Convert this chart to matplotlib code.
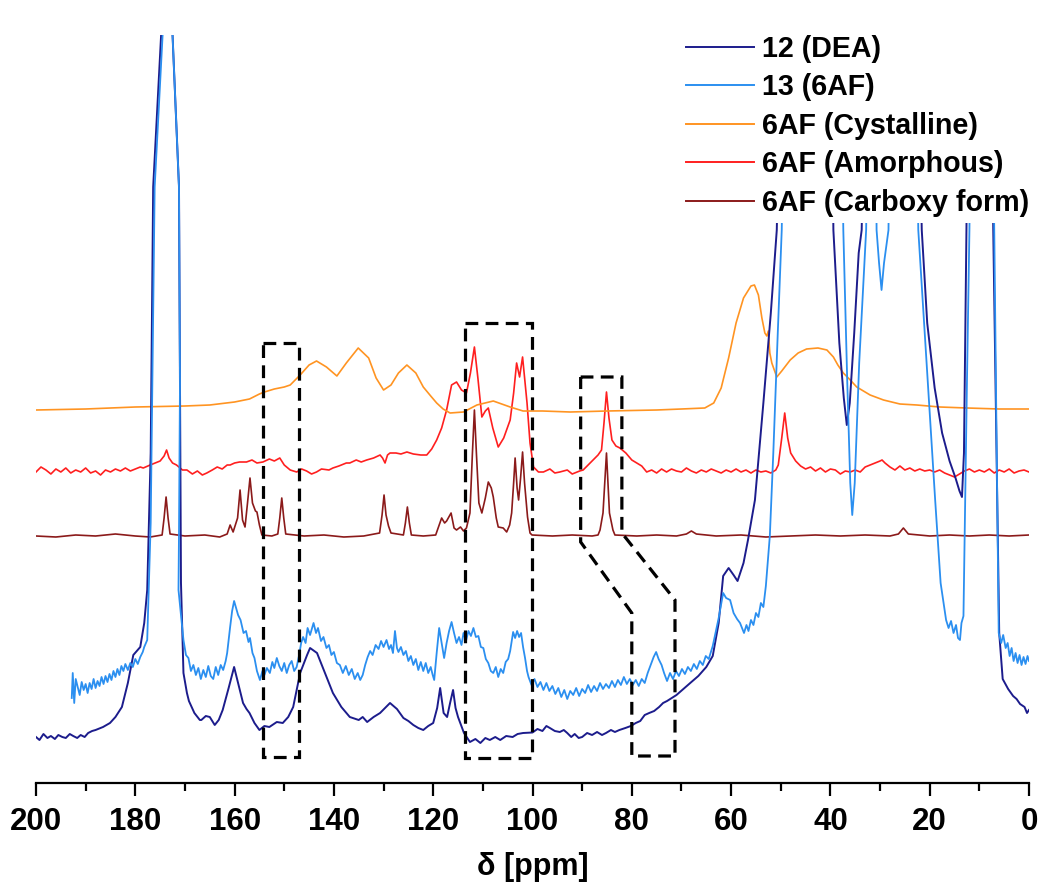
import matplotlib
matplotlib.use("Agg")
import matplotlib.pyplot as plt
from matplotlib.ticker import MultipleLocator

plt.rcParams['font.family'] = ['Liberation Sans', 'DejaVu Sans']
plt.rcParams['font.weight'] = 'bold'

# ---------------- data: (ppm, intensity in arbitrary units) ----------------
dea_pts = [(200, 46), (199.3, 43), (198.5, 49), (197.7, 45), (197, 47), (196.2, 44), (195.5, 48), (194.7, 46),
           (194, 45), (193.2, 49), (192.5, 47), (191.7, 45), (191, 48), (190.2, 46), (189.5, 50), (188.7, 52),
           (188, 53), (186.5, 56), (185.1, 60), (184, 66), (182.7, 76), (181.5, 100), (180.4, 128), (179, 136),
           (178.2, 160), (177.6, 193), (176.9, 330), (176.4, 596), (174.8, 748), (174.0, 830), (173.0, 830),
           (172.5, 748), (171.2, 596), (171.0, 400), (170.8, 200), (170.3, 110), (169.6, 90), (169.2, 82),
           (168.1, 70), (167, 63), (166.7, 63), (165.8, 67), (165, 66), (164, 58), (163.2, 63), (162.4, 73),
           (161.2, 95), (160.1, 116), (159.2, 98), (158.3, 80), (157.6, 74), (157, 70), (156, 60), (155, 53),
           (154, 57), (153, 56), (151.5, 61), (150.3, 60), (149.2, 66), (148.2, 76), (146.8, 110), (145.4, 128),
           (144.8, 135), (143.4, 130), (141.8, 110), (140.2, 90), (138.5, 76), (136.8, 66), (135, 63),
           (134.2, 66), (133.3, 61), (132, 66), (130.7, 70), (128.7, 80), (127.3, 74), (126, 65), (125, 62),
           (124, 58), (123, 55), (122, 53), (121, 57), (120, 60), (119.2, 75), (118.6, 95), (117.9, 70),
           (117.2, 66), (116.6, 80), (116, 93), (115.5, 75), (115, 66), (113.8, 50), (112.6, 41), (111.5, 44),
           (110.5, 40), (109.5, 45), (108.6, 43), (107.5, 46), (106.5, 43), (105.3, 47), (104, 46), (103, 49),
           (101.9, 50), (100, 50.5), (99, 54), (98, 52), (97.2, 57), (96.5, 55), (95.5, 52), (94.5, 51),
           (93.7, 53), (93, 50), (92.2, 46), (91.5, 49), (90.7, 45), (90, 46), (89, 50), (88, 48), (87, 51),
           (86, 48), (85.2, 50), (84.2, 53), (83.4, 51), (82.5, 53), (81.3, 55), (80.2, 57), (79.2, 60),
           (78.3, 62), (77.4, 68), (76.5, 70), (75.5, 72), (74.5, 76), (73.7, 80), (72.9, 82), (71, 88),
           (69.4, 95), (68, 101), (66.6, 107), (65, 116), (63.7, 127), (62.5, 160), (61.6, 207), (60.5, 215),
           (59.5, 208), (58.7, 202), (57.5, 220), (56.6, 243), (55.2, 283), (53.5, 380), (52, 470), (50.8, 553),
           (50.0, 748), (45, 900), (40, 900), (39.4, 553), (38.2, 440), (37.3, 385), (36.7, 358), (36.1, 380),
           (35.2, 450), (34.3, 530), (33.7, 553), (33.0, 748), (28, 900), (22.5, 800), (21.6, 553), (20.5, 460),
           (19.0, 395), (17.5, 350), (16, 322), (14.8, 305), (14, 292), (13.5, 286), (13.1, 330), (12.6, 553),
           (12.2, 748), (10, 900), (7.8, 800), (7.2, 553), (6.0, 150), (5.3, 104), (4.2, 94), (3.2, 87),
           (2.5, 84), (1.8, 79), (0.9, 76), (0.4, 70), (0, 73)]

af_pts = [(192.8, 85), (192.6, 110), (192.3, 80), (192, 104), (191.6, 96), (191.2, 88), (190.8, 101), (190.4, 93),
          (190, 99), (189.6, 90), (189.2, 100), (188.8, 94), (188.4, 104), (188, 95), (187.6, 102), (187.2, 97),
          (186.8, 106), (186.4, 99), (186, 107), (185.6, 101), (185.2, 109), (184.8, 103), (184.4, 112),
          (184, 106), (183.6, 114), (183.2, 108), (182.8, 117), (182.4, 112), (182, 119), (181.5, 113),
          (181, 120), (180.5, 116), (180, 124), (179.5, 119), (179, 126), (178.5, 131), (178.2, 136),
          (177.6, 143), (176.9, 260), (176.1, 596), (174.5, 748), (173.8, 830), (173.0, 830), (172.5, 748),
          (171.2, 596), (171.0, 400), (171.2, 250), (171.3, 193), (170.3, 143), (169.8, 128), (169.3, 125),
          (168.8, 112), (168.3, 118), (167.8, 108), (167.3, 115), (166.8, 104), (166.3, 113), (165.8, 106),
          (165.3, 117), (164.8, 107), (164.3, 104), (163.8, 116), (163.3, 108), (162.8, 118), (162.3, 113),
          (161.8, 122), (161.5, 130), (160.9, 156), (160.5, 172), (160.1, 182), (159.7, 175), (159.3, 168),
          (158.8, 163), (158.2, 150), (157.7, 152), (157.2, 141), (156.9, 145), (156.4, 130), (156, 125),
          (155.5, 112), (154.9, 103), (154.4, 112), (154, 108), (153.5, 115), (152.9, 110), (152.4, 121),
          (152, 115), (151.5, 125), (151, 117), (150.5, 112), (150, 120), (149.5, 110), (149, 118), (148.5, 122),
          (148, 112), (147.5, 116), (147, 128), (146.6, 140), (146.2, 146), (145.7, 140), (145.3, 155),
          (144.8, 148), (144.1, 160), (143.6, 150), (143.2, 155), (142.6, 142), (142.1, 146), (141.5, 135),
          (141, 138), (140.5, 128), (140, 131), (139.4, 120), (138.8, 118), (138.2, 110), (137.6, 117),
          (137, 108), (136.4, 114), (135.8, 104), (135.2, 110), (134.7, 103), (134.2, 108), (133.7, 118),
          (133.2, 126), (132.7, 132), (132.2, 128), (131.6, 138), (131, 134), (130.5, 142), (130, 136),
          (129.4, 143), (128.9, 134), (128.5, 138), (128.1, 130), (127.7, 152), (127.3, 135), (127, 131),
          (126.5, 136), (126, 128), (125.5, 132), (125, 122), (124.5, 127), (124, 118), (123.5, 124), (123, 113),
          (122.5, 121), (122, 112), (121.5, 120), (121, 110), (120.5, 116), (120.1, 108), (119.8, 103),
          (119.3, 130), (118.8, 155), (118.3, 140), (117.8, 125), (117.3, 140), (116.8, 152), (116.3, 161),
          (115.8, 150), (115.3, 140), (114.8, 146), (114.3, 138), (113.9, 150), (113.4, 142), (112.9, 152),
          (112.4, 147), (111.9, 155), (111.4, 146), (110.9, 147), (110.4, 136), (109.9, 135), (109.4, 124),
          (108.9, 120), (108.4, 112), (107.9, 110), (107.4, 116), (106.9, 106), (106.4, 114), (105.9, 110),
          (105.4, 121), (104.9, 124), (104.5, 132), (103.9, 151), (103.5, 145), (103.1, 152), (102.7, 146),
          (102.3, 150), (101.9, 136), (101.5, 125), (101.1, 112), (100.8, 106), (100.2, 98), (99.6, 104),
          (99.0, 96), (98.4, 101), (97.8, 93), (97.2, 100), (96.6, 92), (96.0, 97), (95.4, 89), (94.8, 95),
          (94.2, 86), (93.6, 93), (93.0, 84), (92.4, 92), (91.8, 88), (91.2, 95), (90.6, 87), (90.0, 94),
          (89.4, 90), (88.8, 98), (88.2, 91), (87.6, 97), (87.0, 92), (86.4, 100), (85.8, 94), (85.2, 99),
          (84.6, 95), (84.0, 102), (83.4, 96), (82.8, 103), (82.2, 98), (81.6, 106), (81.0, 99), (80.4, 104),
          (79.8, 98), (79.2, 103), (78.6, 97), (78.0, 104), (77.4, 100), (76.8, 110), (76.2, 118), (75.6, 126),
          (75.1, 131), (74.6, 124), (74.0, 118), (73.5, 110), (72.9, 102), (72.3, 110), (71.7, 104),
          (71.1, 112), (70.5, 107), (69.9, 114), (69.3, 109), (68.7, 116), (68.1, 112), (67.5, 119),
          (66.9, 114), (66.3, 122), (65.7, 118), (65.1, 127), (64.5, 124), (63.7, 137), (62.5, 165),
          (61.6, 190), (61, 185), (60.2, 183), (59.5, 170), (58.8, 164), (58.2, 160), (57.4, 150), (56.9, 158),
          (56.5, 152), (56, 163), (55.5, 158), (55, 170), (54.5, 166), (54, 180), (53.5, 176), (53, 197),
          (52.2, 247), (51.5, 330), (50.6, 450), (49.8, 553), (49.2, 748), (42, 900), (37.9, 748), (37.4, 553),
          (36.6, 400), (36.0, 300), (35.6, 268), (35.1, 300), (34.2, 420), (32.8, 553), (32.3, 748),
          (31.6, 900), (30.9, 748), (30.7, 553), (30.2, 520), (29.7, 493), (29.2, 520), (28.3, 553),
          (27.9, 748), (25, 900), (22.8, 748), (22.3, 553), (18.9, 283), (17.8, 200), (16.7, 163), (16.2, 155),
          (15.7, 162), (15.2, 150), (14.7, 158), (14.3, 145), (13.9, 143), (13.6, 160), (13.2, 167),
          (12.5, 400), (12.0, 553), (11.6, 748), (9, 900), (7.5, 748), (7.0, 553), (6.1, 150), (5.6, 140),
          (5.2, 148), (4.7, 135), (4.3, 140), (3.9, 127), (3.5, 135), (3.1, 122), (2.7, 130), (2.3, 120),
          (1.9, 128), (1.5, 118), (1.1, 126), (0.7, 119), (0.3, 127), (0, 122)]

cryst_pts = [(200, 373), (190, 374), (180, 376), (170, 377), (165, 378), (160, 381), (157, 384), (155, 389),
             (154, 391), (152, 394), (150, 396), (148.8, 398), (146.8, 408), (145, 418), (143.5, 422),
             (141.5, 416), (139.4, 407), (137.5, 420), (135.1, 435), (133, 425), (131.5, 405), (130, 393),
             (128.5, 398), (127, 410), (125.3, 418), (123.5, 410), (122, 396), (120.5, 387), (119.3, 380),
             (118, 374), (116.6, 370), (113.9, 371), (111.2, 378), (107.9, 382), (104.5, 376), (101.9, 372),
             (98, 372), (92.4, 371), (85, 372), (75, 373), (70, 374), (65.3, 375), (63.5, 380), (62, 395),
             (60.5, 425), (59, 460), (57.5, 485), (56, 497), (55.3, 498), (54.5, 488), (53.8, 465), (53.2, 450),
             (52.8, 447), (52.5, 452), (52.2, 430), (51.8, 420), (50.8, 406), (49.8, 412), (48.1, 423),
             (46.5, 430), (44.8, 434), (42.5, 435), (40.7, 433), (39.4, 426), (38.5, 418), (37.4, 410), (36, 403),
             (34.7, 396), (32, 388), (29.3, 383), (26, 379), (22.6, 378), (18, 376), (12.5, 375), (6, 374),
             (0, 374)]

amor_pts = [(200, 311), (199, 316), (198, 313), (197, 309), (196, 314), (195, 311), (194, 315), (193, 310),
            (192, 313), (191, 311), (190, 315), (189, 310), (188, 312), (187, 308), (186, 313), (185, 311),
            (184, 314), (183, 312), (182, 315), (181, 312), (180, 314), (179, 316), (178.4, 315), (177, 318),
            (175, 322), (174.2, 327), (173.7, 333), (173.2, 325), (172.5, 320), (171.7, 318), (170.5, 313),
            (169.6, 313), (168.5, 309), (167.5, 312), (166.5, 308), (165.6, 310), (164.5, 313), (163.5, 316),
            (162.5, 314), (161.5, 318), (160.9, 318), (160, 320), (159, 321), (157.6, 321), (156.5, 323),
            (155.5, 320), (154.3, 321), (153, 324), (152, 322), (150.9, 325), (150, 318), (148.8, 313),
            (147.5, 311), (146.5, 314), (145.5, 312), (144.5, 309), (143.5, 311), (142.5, 314), (141, 313),
            (140.2, 315), (139, 317), (137.5, 320), (136.8, 320), (135.5, 323), (134.5, 321), (133.4, 323),
            (132, 325), (130.7, 328), (130.2, 325), (129.7, 320), (129.2, 328), (128.7, 330), (127.5, 330),
            (126.5, 329), (125.3, 331), (124, 329), (122.5, 328), (121.3, 328), (120.3, 334), (119.3, 343),
            (118.3, 355), (117.3, 373), (116.3, 398), (115.3, 401), (114.3, 393), (113.3, 390), (112.5, 410),
            (111.7, 436), (111.0, 405), (110.2, 366), (109.5, 372), (108.9, 375), (108, 355), (106.9, 336),
            (105.8, 345), (104.5, 363), (103.8, 390), (103.2, 420), (102.6, 406), (102.0, 426), (101.5, 400),
            (101.1, 380), (100.5, 340), (99.8, 316), (98.8, 311), (97.8, 311), (96.5, 314), (95.5, 310),
            (94.5, 311), (93, 313), (92, 309), (90.5, 312), (89.8, 313), (88.8, 318), (87.8, 323), (86.8, 328),
            (86.1, 333), (85.6, 360), (85.1, 391), (84.6, 365), (84.0, 343), (83.2, 337), (82.4, 335),
            (81.2, 330), (80, 323), (79, 320), (78, 317), (77, 311), (76, 313), (75, 310), (74, 314), (73, 311),
            (72, 314), (71, 312), (70, 311), (69, 315), (68, 312), (67, 310), (66, 313), (65, 311), (64, 314),
            (63, 312), (62, 310), (61, 313), (60, 311), (59, 314), (58, 311), (57, 313), (56, 310), (55, 313),
            (54, 311), (53, 312), (52, 310), (51, 313), (50.5, 318), (49.8, 345), (49.2, 370), (48.6, 345),
            (48, 330), (47, 322), (46, 317), (45, 314), (44, 316), (43, 312), (42, 315), (41, 311), (40, 314),
            (39, 313), (38, 309), (37, 312), (36, 311), (35, 313), (34, 311), (33, 316), (32, 318), (31, 320),
            (30, 322), (29.6, 323), (29, 320), (28, 316), (27, 313), (26, 317), (25, 313), (24, 315), (23, 312),
            (22, 314), (21, 312), (20, 313), (19, 311), (18, 313), (17, 310), (16, 308), (15, 306), (14, 309),
            (13, 312), (12, 314), (11, 311), (10, 313), (9, 311), (8, 314), (7, 310), (6, 313), (5, 311),
            (4, 314), (3, 310), (2, 312), (1, 313), (0, 311)]

carb_pts = [(200, 247), (196, 246), (192, 248), (188, 247), (184, 249), (180, 247), (177, 246), (174.6, 248),
            (174.2, 265), (173.8, 286), (173.4, 265), (173.0, 249), (170, 247), (166, 248), (163, 246),
            (161.5, 249), (160.9, 258), (160.3, 251), (159.4, 265), (158.9, 293), (158.4, 263), (157.9, 256),
            (157.4, 280), (156.9, 305), (156.4, 280), (155.8, 272), (155.5, 271), (155.0, 258), (154.5, 248),
            (152.5, 247), (151.3, 249), (150.9, 265), (150.5, 285), (150.1, 265), (149.7, 249), (146, 247),
            (142, 248), (138, 246), (134, 247), (130.8, 250), (130.3, 268), (129.9, 288), (129.5, 268),
            (129.0, 257), (128.5, 250), (126.0, 248), (125.6, 260), (125.2, 276), (124.8, 260), (124.4, 248),
            (122, 247), (119.5, 248), (118.3, 265), (117.7, 260), (117.3, 262), (116.4, 270), (115.8, 255),
            (115.3, 253), (114.5, 256), (113.9, 252), (113.3, 255), (112.6, 270), (112.1, 330), (111.7, 373),
            (111.3, 330), (110.8, 280), (110.2, 270), (109.5, 285), (108.9, 301), (108.3, 295), (107.9, 286),
            (107.3, 265), (106.9, 256), (105.9, 255), (105.2, 251), (104.6, 258), (104.2, 270), (103.8, 300),
            (103.5, 325), (103.1, 295), (102.8, 283), (102.4, 305), (102.0, 331), (101.6, 300), (101.0, 266),
            (100.5, 250), (100.1, 248), (96, 247), (92, 248), (88, 247), (86.8, 248), (86.4, 253), (85.8, 270),
            (85.1, 330), (84.5, 270), (83.8, 253), (83.4, 248), (79, 247), (75, 248), (71, 247), (69, 249),
            (68, 252), (67, 249), (63, 247), (58, 248), (53, 246), (48, 247), (43, 248), (38, 247), (33, 248),
            (28, 247), (26.3, 249), (25.3, 255), (24.3, 249), (20, 247), (16, 248), (12, 247), (8, 248),
            (4, 247), (0, 248)]

series_labels = ['12 (DEA)', '13 (6AF)', '6AF (Cystalline)', '6AF (Amorphous)', '6AF (Carboxy form)']
series_colors = ['#1c1c8c', '#2b8ff0', '#ff9422', '#ff1f1f', '#8b1a1a']

x_ticks = [200, 180, 160, 140, 120, 100, 80, 60, 40, 20, 0]

# dashed highlight boxes (ppm, intensity)
box1_pts = [(154.3, 440), (147.0, 440), (147.0, 26), (154.3, 26), (154.3, 440)]
box2_pts = [(113.6, 460), (100.1, 460), (100.1, 25), (113.6, 25), (113.6, 460)]
box3_pts = [(90.3, 406), (82.0, 406), (82.0, 250), (71.3, 183), (71.3, 27), (80.0, 27), (80.0, 170),
            (90.3, 241), (90.3, 406)]


def unzip(pts):
    return [p[0] for p in pts], [p[1] for p in pts]


# ---------------- figure ----------------
fig = plt.figure(figsize=(10.54, 8.88), dpi=100)
ax = fig.add_axes([36 / 1054, 105 / 888, 993 / 1054, 748 / 888])

order = [(carb_pts, 4, 1.2, 2), (amor_pts, 3, 1.2, 3), (cryst_pts, 2, 1.2, 4),
         (dea_pts, 0, 1.4, 5), (af_pts, 1, 1.3, 6)]
for pts, ci, lw, z in order:
    xs, ys = unzip(pts)
    ax.plot(xs, ys, color=series_colors[ci], lw=lw, zorder=z)

handles = [plt.Line2D([], [], color=c, lw=1.4) for c in series_colors]

for bp in [box1_pts, box2_pts, box3_pts]:
    bx, by = unzip(bp)
    ax.plot(bx, by, color='black', lw=2.3, linestyle=(0, (4.0, 2.3)), zorder=8,
            solid_joinstyle='miter', dash_joinstyle='miter')

ax.set_xlim(200, 0)
ax.set_ylim(0, 748)
for s in ['top', 'left', 'right']:
    ax.spines[s].set_visible(False)
ax.spines['bottom'].set_linewidth(1.6)
ax.set_yticks([])
ax.set_xticks(x_ticks)
ax.xaxis.set_minor_locator(MultipleLocator(10))
ax.tick_params(axis='x', which='major', length=9.5, width=1.6, direction='out', labelsize=22.5, pad=7.5)
ax.tick_params(axis='x', which='minor', length=5.5, width=1.6, direction='out')
for lbl in ax.get_xticklabels():
    lbl.set_fontweight('bold')
ax.set_xlabel('δ [ppm]', fontsize=22, fontweight='bold', labelpad=11)

leg = ax.legend(handles, series_labels, loc='upper left',
                bbox_to_anchor=((680 - 36) / 993, 1 + 6 / 748), borderaxespad=0,
                prop={'size': 20.6, 'weight': 'bold'}, frameon=True, facecolor='white',
                edgecolor='none', framealpha=1, fancybox=False, handlelength=2.4,
                handletextpad=0.28, labelspacing=0.37, borderpad=0.2)
leg.set_zorder(20)

fig.savefig('out.png', dpi=100)
